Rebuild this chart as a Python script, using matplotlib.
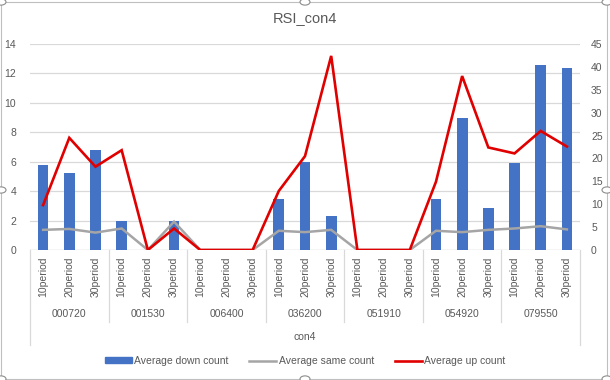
import matplotlib
matplotlib.use("Agg")
import matplotlib.pyplot as plt
import matplotlib.transforms as mtransforms
from matplotlib.patches import Rectangle, Circle
from matplotlib.lines import Line2D
import numpy as np

plt.rcParams['font.family'] = ['Liberation Sans', 'DejaVu Sans']

groups = ["000720", "001530", "006400", "036200", "051910", "054920", "079550"]
periods = ["10period", "20period", "30period"]

down_count = [5.8, 5.2, 6.8,
              2.0, 0.0, 1.95,
              0.0, 0.0, 0.0,
              3.5, 5.95, 2.3,
              0.0, 0.0, 0.0,
              3.5, 9.0, 2.85,
              5.9, 12.6, 12.4]
same_count = [4.4, 4.6, 3.8,
              4.7, 0.0, 6.2,
              0.0, 0.0, 0.0,
              4.2, 3.9, 4.4,
              0.0, 0.0, 0.0,
              4.2, 3.9, 4.4,
              4.7, 5.2, 4.5]
up_count = [9.8, 24.5, 18.2,
            21.8, 0.0, 4.7,
            0.0, 0.0, 0.0,
            12.9, 20.5, 42.4,
            0.0, 0.0, 0.0,
            14.9, 38.0, 22.4,
            21.1, 26.0, 22.6]

title = "RSI_con4"
axis_title = "con4"
left_ticks = [0, 2, 4, 6, 8, 10, 12, 14]
right_ticks = [0, 5, 10, 15, 20, 25, 30, 35, 40, 45]

W, H = 610, 380
fig = plt.figure(figsize=(W / 100, H / 100), dpi=100)

x0, x1, ytop, ybot = 30, 580, 44, 250
ax = fig.add_axes([x0 / W, 1 - ybot / H, (x1 - x0) / W, (ybot - ytop) / H])
ax2 = ax.twinx()

n = len(down_count)
x = np.arange(n)
text_c = "#595959"
grid_c = "#d9d9d9"

ax.bar(x, down_count, width=0.41, color="#4472c4", zorder=2)
ax2.plot(x, same_count, color="#a5a5a5", lw=1.8, zorder=3, solid_joinstyle="miter")
ax2.plot(x, up_count, color="#e00000", lw=1.9, zorder=4, solid_joinstyle="miter")

ax.set_xlim(-0.5, n - 0.5)
ax.set_ylim(0, 14)
ax2.set_ylim(0, 45)
ax.set_yticks(left_ticks)
ax2.set_yticks(right_ticks)
ax.yaxis.grid(True, color=grid_c, lw=0.9, zorder=0)
ax.set_axisbelow(True)
for a in (ax, ax2):
    for s in a.spines.values():
        s.set_visible(False)
    a.tick_params(axis='y', length=0, labelsize=7.5, labelcolor=text_c)
ax.tick_params(axis='y', pad=10)
ax2.tick_params(axis='y', pad=8)
ax.set_xticks(x)
ax.set_xticklabels(periods * len(groups), rotation=90, fontsize=7.5, color=text_c)
ax.tick_params(axis='x', length=0, pad=5)
ax.axhline(0, color=grid_c, lw=0.9, zorder=1)

# multi-level category axis
trans = mtransforms.blended_transform_factory(ax.transData, ax.transAxes)
hpx = ybot - ytop
y_sep = -(322 - ybot) / hpx
y_outer = -(345 - ybot) / hpx
y_grp = -(314 - ybot) / hpx
y_con = -(337 - ybot) / hpx
for i in range(1, len(groups)):
    ax.plot([3 * i - 0.5] * 2, [0, y_sep], transform=trans, color=grid_c,
            lw=0.9, clip_on=False)
for xv in (-0.5, n - 0.5):
    ax.plot([xv] * 2, [0, y_outer], transform=trans, color=grid_c,
            lw=0.9, clip_on=False)
for i, g in enumerate(groups):
    ax.text(3 * i + 1, y_grp, g, transform=trans, ha='center', va='center',
            fontsize=7.5, color=text_c)
ax.text((n - 1) / 2, y_con, axis_title, transform=trans, ha='center',
        va='center', fontsize=7.5, color=text_c)

fig.text(0.5, 1 - 18 / H, title, ha='center', va='center', fontsize=10.5,
         color=text_c)

handles = [Rectangle((0, 0), 1, 1, color="#4472c4"),
           Line2D([], [], color="#a5a5a5", lw=1.8),
           Line2D([], [], color="#e00000", lw=1.9)]
fig.legend(handles, ["Average down count", "Average same count", "Average up count"],
           loc='center', bbox_to_anchor=(0.5, 1 - 361 / H), ncol=3, frameon=False,
           fontsize=7.5, labelcolor=text_c, handlelength=2.6, handleheight=0.5,
           handletextpad=0.2, columnspacing=2.0)

# chart border and selection handles
fig.patches.append(Rectangle((1 / W, 1 / H), (W - 4) / W, (H - 3) / H,
                             transform=fig.transFigure, fill=False,
                             ec="#bfbfbf", lw=0.8))
for (hx, hy) in [(1, 1), (W / 2, 1), (W - 3, 1), (1, H / 2), (W - 3, H / 2),
                 (1, H - 2), (W / 2, H - 2), (W - 3, H - 2)]:
    fig.patches.append(Circle((hx / W, hy / H), 5 / W, transform=fig.transFigure,
                              fc="white", ec="#8c8c8c", lw=0.8, zorder=10))

fig.savefig("out.png", dpi=100)
